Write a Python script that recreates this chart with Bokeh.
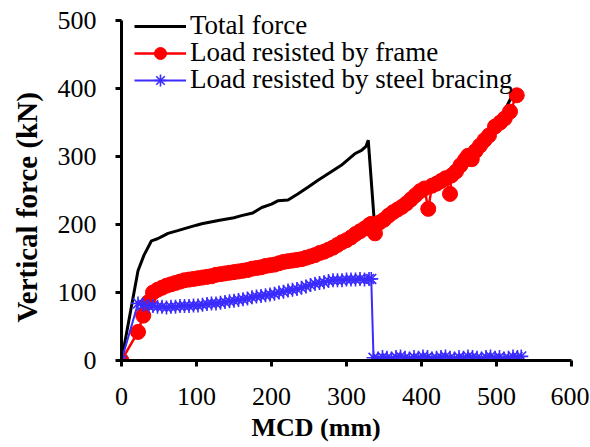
from bokeh.plotting import figure
from bokeh.models import FixedTicker, Legend, LegendItem, Title
from bokeh.embed import file_html
from bokeh.resources import INLINE

# ---- data ----
x_ticks = [0, 100, 200, 300, 400, 500, 600]
y_ticks = [0, 100, 200, 300, 400, 500]

total_mcd = [0, 10, 22, 30, 40, 48, 55, 62, 75, 84, 100, 107, 129, 150, 160, 175, 187, 200, 209, 222,
             235, 249, 262, 276, 293, 311, 320, 326, 329, 337, 344, 356, 374, 392, 404, 420, 440, 462, 484, 505, 522]
total_kn = [0, 60, 132, 155, 176, 179, 183, 187, 191, 194, 199, 201, 206, 210, 213, 217, 225, 230, 235, 236,
            245, 255, 265, 275, 287, 304, 309, 315, 324, 205, 208, 218, 231, 248, 258, 265, 277, 306, 329, 355, 392]

frame_mcd = [0, 22, 29, 36, 42, 48, 54, 60, 66, 72, 78, 84, 90, 96, 102, 108, 114, 120, 126, 132,
             138, 144, 150, 156, 162, 168, 174, 180, 186, 192, 198, 204, 210, 216, 222, 228, 234, 240, 246, 252,
             258, 264, 270, 276, 282, 288, 294, 300, 306, 312, 318, 324, 330, 333, 338, 344, 350, 356, 362, 368,
             374, 380, 386, 392, 398, 404, 409, 414, 420, 426, 432, 438, 440, 446, 452, 458, 462, 467, 472, 478,
             484, 490, 498, 505, 511, 518, 527]
frame_kn = [0, 42, 66, 86, 100, 104, 107, 110, 112, 114, 116, 118, 119, 120, 121, 122, 123, 124, 126, 127,
            128, 129, 130, 131, 132, 133, 135, 136, 137, 139, 140, 141, 143, 145, 146, 147, 148, 149, 151, 153,
            155, 158, 160, 163, 166, 170, 174, 177, 181, 186, 190, 194, 199, 201, 187, 203, 207, 213, 218, 222,
            226, 231, 237, 243, 249, 253, 223, 257, 260, 264, 268, 245, 272, 278, 287, 295, 301, 296, 308, 316,
            324, 331, 344, 350, 356, 366, 390]

bracing_mcd = [0, 22, 29, 36, 42, 48, 54, 60, 66, 72, 78, 84, 90, 96, 102, 108, 114, 120, 126, 132,
               138, 144, 150, 156, 162, 168, 174, 180, 186, 192, 198, 204, 210, 216, 222, 228, 234, 240, 246, 252,
               258, 264, 270, 276, 282, 288, 294, 300, 306, 312, 318, 324, 330, 333,
               336, 342, 348, 354, 360, 366, 372, 378, 384, 390, 396, 402, 408, 414, 420, 426, 432, 438, 444, 450,
               456, 462, 468, 474, 480, 486, 492, 498, 504, 510, 516, 522, 528, 533]
bracing_kn = [0, 84, 82, 80, 80, 79, 79, 78, 79, 79, 80, 80, 80, 81, 81, 82, 83, 84, 84, 85,
              86, 87, 88, 89, 90, 91, 93, 94, 95, 96, 97, 98, 100, 101, 103, 104, 105, 107, 109, 111,
              113, 114, 115, 117, 118, 118, 118, 119, 119, 119, 120, 119, 120, 120,
              4, 3, 5, 4, 3, 5, 6, 4, 3, 5, 4, 6, 5, 3, 4, 5, 6, 4, 3, 5,
              4, 6, 5, 4, 3, 5, 6, 4, 5, 3, 4, 6, 5, 6]

series_names = ["Total force", "Load resisted by frame", "Load resisted by steel bracing"]
x_title = "MCD (mm)"
y_title = "Vertical force (kN)"

FONT = "Liberation Serif"
RED = "#FF0000"
BLUE = "#3A2BFF"

# frame reaches the canvas top so the legend (which sits above the 500 line) is not clipped;
# the y axis line itself is bounded to 0..500.
p = figure(frame_width=450, frame_height=360, x_range=(0, 600), y_range=(0, 360 / 0.68),
           output_backend="svg", toolbar_location=None,
           min_border_left=120, min_border_top=0, min_border_right=18, min_border_bottom=80)
p.outline_line_color = None
p.grid.visible = False
p.background_fill_color = "white"
p.border_fill_color = "white"

for ax in (p.xaxis[0], p.yaxis[0]):
    ax.axis_line_width = 3
    ax.axis_line_color = "black"
    ax.major_tick_line_width = 3
    ax.major_tick_line_color = "black"
    ax.major_tick_out = 6
    ax.major_tick_in = 0
    ax.minor_tick_out = 0
    ax.minor_tick_in = 0
    ax.major_label_text_font = FONT
    ax.major_label_text_font_size = "26px"
    ax.major_label_text_color = "black"

p.xaxis.ticker = FixedTicker(ticks=x_ticks)
p.yaxis.ticker = FixedTicker(ticks=y_ticks)
p.yaxis.bounds = (0, 500)
p.xaxis.major_label_standoff = 21
p.yaxis.major_label_standoff = 19

p.add_layout(Title(text=x_title, align="left", offset=130, standoff=6, text_font=FONT,
                   text_font_size="26px", text_font_style="bold", text_color="black"), "below")
p.add_layout(Title(text=y_title, align="left", offset=38, standoff=20, vertical_align="top",
                   text_font=FONT, text_font_size="29px", text_font_style="bold",
                   text_color="black"), "left")

r_total = p.line(total_mcd, total_kn, line_color="black", line_width=3)
r_frame_l = p.line(frame_mcd, frame_kn, line_color=RED, line_width=2.5)
r_frame_m = p.scatter(frame_mcd, frame_kn, marker="circle", size=15, fill_color=RED, line_color=RED)
r_brace_l = p.line(bracing_mcd, bracing_kn, line_color=BLUE, line_width=2)
r_brace_m = p.scatter(bracing_mcd, bracing_kn, marker="asterisk", size=14, line_color=BLUE, line_width=1.6)

legend_items = [[r_total], [r_frame_l, r_frame_m], [r_brace_l, r_brace_m]]
legend_rows_y = [319, 292, 265]  # screen px above frame bottom, one legend per row
for name, rends, ly in zip(series_names, legend_items, legend_rows_y):
    lg = Legend(items=[LegendItem(label=name, renderers=rends)],
                location=(13, ly), padding=0, spacing=0, margin=0,
                glyph_width=52, glyph_height=30, label_height=30, label_standoff=4,
                label_text_font=FONT, label_text_font_size="27px", label_text_color="black",
                border_line_color=None, background_fill_alpha=0)
    p.add_layout(lg)

open("out.html", "w").write(file_html(p, INLINE))
